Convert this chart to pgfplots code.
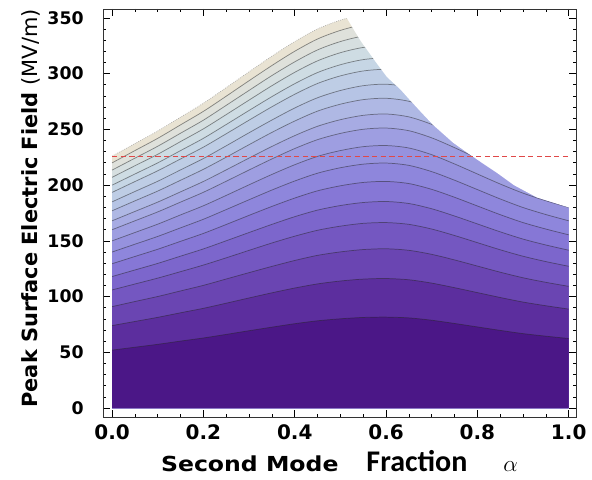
\documentclass[border=0pt]{standalone}
\usepackage{pgfplots}
\pgfplotsset{compat=1.18}
\usepackage{pgfplotstable}
\usepackage{fontspec}
\usepackage{graphicx}
\usetikzlibrary{calc}
\newfontfamily\dvs{DejaVu Sans}
\newfontfamily\carl{Carlito}

\definecolor{b0}{HTML}{4B1787}
\definecolor{b1}{HTML}{5C2E9E}
\definecolor{b2}{HTML}{6A45B2}
\definecolor{b3}{HTML}{7457C1}
\definecolor{b4}{HTML}{7C66CC}
\definecolor{b5}{HTML}{8677D6}
\definecolor{b6}{HTML}{8E86DC}
\definecolor{b7}{HTML}{9692DE}
\definecolor{b8}{HTML}{9E9EE1}
\definecolor{b9}{HTML}{A7ABE3}
\definecolor{b10}{HTML}{AFB8E4}
\definecolor{b11}{HTML}{B6C4E5}
\definecolor{b12}{HTML}{BECDE5}
\definecolor{b13}{HTML}{C6D6E5}
\definecolor{b14}{HTML}{CEDCE3}
\definecolor{b15}{HTML}{D6DFE0}
\definecolor{b16}{HTML}{DFE1DB}
\definecolor{b17}{HTML}{E9E3D3}
\definecolor{rd}{HTML}{E04848}

\pgfplotstableread{
x c52 c74 c91 c106 c118 c129 c140 c150 c160 c168 c177 c185 c193 c200 c207 c213 c220 c226
0.00 52 74 91 106 118 129.5 140 150 160 168 177 185 193.5 200 207 213.5 220 226
0.05 54.6 77.7 95.6 111.3 123.9 136.0 147 157.5 168 176.4 185.9 194.3 203.2 210 217.4 224.2 231 237.3
0.10 57.2 81.4 100.1 116.6 129.8 142.5 154 165 176 184.8 194.7 203.5 212.9 220 227.7 234.9 242 248.6
0.15 60.1 85.5 105.1 122.4 136.3 149.6 161.7 173.3 184.8 194.0 204.4 213.7 223.5 231 239.1 246.6 254.1 261.0
0.20 62.9 89.5 110.1 128.3 142.8 156.7 169.4 181.5 193.6 203.3 214.2 223.9 234.1 242 250.5 258.3 266.2 273.5
0.25 66.1 94.1 115.8 134.8 150.1 164.7 178.1 190.8 203.5 213.7 225.1 235.3 246.1 254.4 263.3 271.6 279.8 287.5
0.30 69.4 98.8 121.5 141.5 157.5 172.9 186.9 200.3 213.6 224.3 236.3 247.0 258.3 267 276.3 285.0 293.7 301.7
0.35 72.6 103.4 127.1 148.1 164.8 180.9 195.6 209.6 223.5 234.7 247.3 258.4 270.3 279.4 289.2 298.3 307.3 315.7
0.40 75.7 107.7 132.4 154.2 171.7 188.4 203.7 218.3 232.8 244.4 257.5 269.2 281.5 291 301.2 310.6 320.1 328.8
0.45 78.3 111.4 137.0 159.5 177.6 194.9 210.7 225.8 240.8 252.8 266.4 278.4 291.2 301 311.5 321.3 331.1 340.1
0.50 80.1 114.0 140.1 163.2 181.7 199.4 215.6 231 246.4 258.7 272.6 284.9 298.0 308 318.8 328.8 338.8 348.0
0.55 81.3 115.7 142.2 165.7 184.4 202.4 218.8 234.5 250.1 262.6 276.7 289.2 302.4 312.6 323.5 333.7 343.9 353.2
0.60 81.6 116.2 142.9 166.4 185.3 203.3 219.8 235.5 251.2 263.8 277.9 290.5 303.8 314 325.0 335.2 345.4 354.8
0.65 80.9 115.1 141.5 164.8 183.5 201.4 217.7 233.3 248.8 261.2 275.2 287.7 300.9 311 321.9 332.0 342.1 351.4
0.70 78.8 112.1 137.9 160.6 178.8 196.2 212.1 227.3 242.4 254.5 268.2 280.3 293.2 303 313.6 323.5 333.3 342.4
0.75 75.9 108.0 132.9 154.8 172.3 189.1 204.4 219 233.6 245.3 258.4 270.1 282.5 292 302.2 311.7 321.2 330.0
0.80 72.8 103.6 127.4 148.4 165.2 181.3 196 210 224 235.2 247.8 259 270.9 280 289.8 298.9 308 316.4
0.85 69.7 99.2 121.9 142.0 158.1 173.5 187.6 201 214.4 225.1 237.2 247.9 259.3 268 277.4 286.1 294.8 302.8
0.90 66.8 95.1 116.9 136.2 151.6 166.4 179.9 192.8 205.6 215.9 227.4 237.7 248.6 257 266.0 274.3 282.7 290.4
0.95 64.5 91.8 112.8 131.4 146.3 160.6 173.6 186 198.4 208.3 219.5 229.4 239.9 248 256.7 264.7 272.8 280.2
1.00 62.4 88.8 109.2 127.2 141.6 155.4 168 180 192 201.6 212.4 222 232.2 240 248.4 256.2 264 271.2
}\data

\begin{document}
\begin{tikzpicture}
\begin{axis}[
  scale only axis, width=354.75pt, height=306pt,
  xmin=-0.02, xmax=1.016, ymin=-8, ymax=358,
  axis on top,
  xtick={0,0.2,0.4,0.6,0.8,1.0},
  ytick={0,50,100,150,200,250,300,350},
  minor x tick num=3, minor y tick num=4,
  tick align=inside,
  major tick length=5pt, minor tick length=2.5pt,
  tick style={black, line width=0.5pt},
  axis line style={black!80, line width=0.6pt},
  /pgf/number format/assume math mode=true,
  xticklabel style={font=\dvs\bfseries\fontsize{15}{15}\selectfont, yshift=-2.5pt,
    /pgf/number format/fixed, /pgf/number format/fixed zerofill, /pgf/number format/precision=1},
  yticklabel style={font=\dvs\bfseries\fontsize{13}{13}\selectfont, xshift=-11pt},
  every axis x label/.style={at={(axis description cs:0.5,-0.133)}, anchor=base, inner sep=0pt},
  every axis y label/.style={at={(axis description cs:-0.152,0.511)}, anchor=center, rotate=90, inner sep=0pt},
  xlabel={{\dvs\bfseries\fontsize{15.5}{16}\selectfont\scalebox{1.14}[1]{Second Mode}}\hspace{21pt}{\carl\bfseries\fontsize{22.5}{24}\selectfont Fraction}\hspace{27pt}{\fontsize{17}{18}\selectfont$\alpha$}},
  ylabel={\dvs\fontsize{15.7}{16}\selectfont\textbf{Peak Surface Electric Field} (MV/m)},
]
\addplot[draw=none, fill=b17, smooth] table[x=x,y=c226]{\data} \closedcycle;
\addplot[draw=none, fill=b16, smooth] table[x=x,y=c220]{\data} \closedcycle;
\addplot[draw=none, fill=b15, smooth] table[x=x,y=c213]{\data} \closedcycle;
\addplot[draw=none, fill=b14, smooth] table[x=x,y=c207]{\data} \closedcycle;
\addplot[draw=none, fill=b13, smooth] table[x=x,y=c200]{\data} \closedcycle;
\addplot[draw=none, fill=b12, smooth] table[x=x,y=c193]{\data} \closedcycle;
\addplot[draw=none, fill=b11, smooth] table[x=x,y=c185]{\data} \closedcycle;
\addplot[draw=none, fill=b10, smooth] table[x=x,y=c177]{\data} \closedcycle;
\addplot[draw=none, fill=b9, smooth] table[x=x,y=c168]{\data} \closedcycle;
\addplot[draw=none, fill=b8, smooth] table[x=x,y=c160]{\data} \closedcycle;
\addplot[draw=none, fill=b7, smooth] table[x=x,y=c150]{\data} \closedcycle;
\addplot[draw=none, fill=b6, smooth] table[x=x,y=c140]{\data} \closedcycle;
\addplot[draw=none, fill=b5, smooth] table[x=x,y=c129]{\data} \closedcycle;
\addplot[draw=none, fill=b4, smooth] table[x=x,y=c118]{\data} \closedcycle;
\addplot[draw=none, fill=b3, smooth] table[x=x,y=c106]{\data} \closedcycle;
\addplot[draw=none, fill=b2, smooth] table[x=x,y=c91]{\data} \closedcycle;
\addplot[draw=none, fill=b1, smooth] table[x=x,y=c74]{\data} \closedcycle;
\addplot[draw=none, fill=b0, smooth] table[x=x,y=c52]{\data} \closedcycle;
\pgfplotsinvokeforeach{c52,c74,c91,c106,c118,c129,c140,c150,c160,c168,c177,c185,c193,c200,c207,c213,c220}{
  \addplot[black!85, opacity=0.5, line width=0.55pt, smooth] table[x=x,y=#1]{\data};
}
\addplot[gray!70, densely dotted, line width=0.5pt, smooth] table[x=x,y=c226]{\data};
% region beyond the right-hand boundary
\addplot[fill=white, draw=none] coordinates {
(0.514,350) (0.530,339) (0.545,329) (0.559,321) (0.580,309) (0.602,297) (0.631,286)
(0.653,276) (0.680,264) (0.703,254) (0.747,238) (0.785,227) (0.810,220) (0.843,211)
(0.880,200) (0.930,189) (1.000,180) (1.030,180) (1.030,370) (0.514,370)};
\addplot[rd, line width=0.8pt, dash pattern=on 4pt off 2.5pt] coordinates {(0,226) (1,226)};
\coordinate (sw) at (rel axis cs:0,0);
\coordinate (ne) at (rel axis cs:1,1);
\end{axis}
\path ($(sw)+(-77.25pt,-47.25pt)$) rectangle ($(ne)+(12pt,6.75pt)$);
\end{tikzpicture}
\end{document}
